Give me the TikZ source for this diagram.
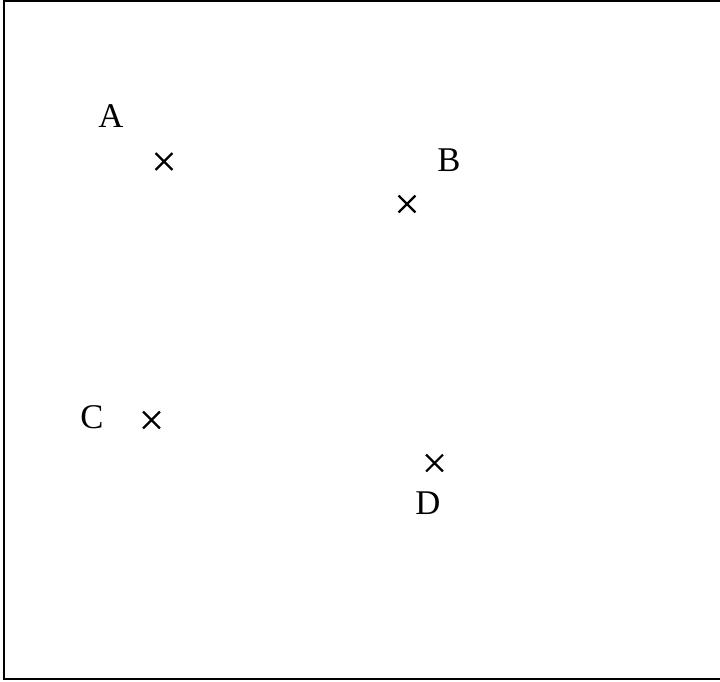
\documentclass[tikz,border=0pt]{standalone}
\usepackage{fontspec}
\setmainfont{Liberation Serif}
\usepackage{tikz}
\usetikzlibrary{shapes.misc}

\begin{document}
\begin{tikzpicture}[x=0.75pt,y=-0.75pt,
 xmark/.style={draw,cross out,line width=1.6pt,minimum size=11pt,inner sep=0pt},
 lbl/.style={font=\fontsize{26}{30}\selectfont,inner sep=0pt}]
\useasboundingbox (0,0) rectangle (720,681);
\draw[line width=1.6pt] (4,1) rectangle (730,679);
% points
\node[xmark] (pa) at (164,161.5) {};
\node[xmark] (pb) at (407,204) {};
\node[xmark] (pc) at (151.5,420) {};
\node[xmark] (pd) at (434.5,463) {};
% labels
\node[lbl] (la) at (111,116) {A};
\node[lbl] (lb) at (449,160) {B};
\node[lbl] (lc) at (92,417) {C};
\node[lbl] (ld) at (428,503) {D};
\end{tikzpicture}
\end{document}
